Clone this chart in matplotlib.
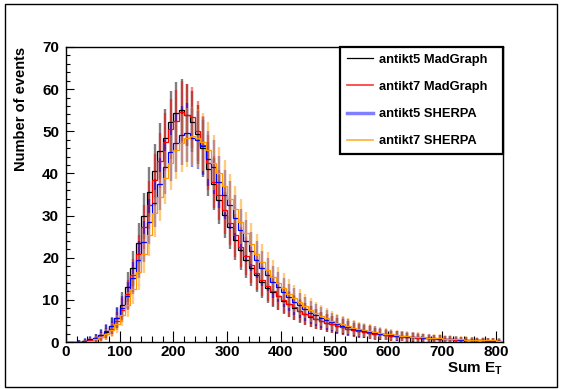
import matplotlib
matplotlib.use("Agg")
import matplotlib.pyplot as plt
import numpy as np
from matplotlib.lines import Line2D
from matplotlib.patches import Rectangle

plt.rcParams['font.family'] = ['Liberation Sans', 'DejaVu Sans']
plt.rcParams['font.weight'] = 'bold'
plt.rcParams['mathtext.fontset'] = 'custom'
plt.rcParams['mathtext.rm'] = 'Liberation Sans:bold'
plt.rcParams['mathtext.it'] = 'Liberation Sans:bold'

# histogram bins: 10 GeV wide from 0 to 810
edges = np.arange(0, 820, 10)

labels = ["antikt5 MadGraph", "antikt7 MadGraph", "antikt5 SHERPA", "antikt7 SHERPA"]
colors = ["black", "#ff0000", "#0000ff", "#ff9900"]

kt5_madgraph = [
    0, 0, 0.1, 0.2, 0.5, 0.9, 1.6, 2.4, 3.8, 5.8,
    8.8, 13.0, 17.5, 23.5, 29.8, 35.6, 40.5, 45.3, 48.3, 52.3,
    54.3, 55.0, 53.8, 52.3, 49.3, 46.0, 41.0, 37.5, 33.8, 30.2,
    27.2, 24.3, 21.8, 19.5, 17.5, 15.8, 14.2, 12.9, 11.8, 10.8,
    9.8, 8.9, 8.0, 7.3, 6.6, 6.0, 5.5, 5.0, 4.6, 4.2,
    3.8, 3.5, 3.2, 2.9, 2.6, 2.4, 2.2, 2.0, 1.8, 1.65,
    1.5, 1.38, 1.27, 1.17, 1.08, 1.0, 0.92, 0.85, 0.78, 0.72,
    0.66, 0.6, 0.55, 0.5, 0.46, 0.42, 0.39, 0.36, 0.33, 0.3,
    0.28,
]
kt7_madgraph = [
    0, 0, 0.05, 0.15, 0.4, 0.7, 1.3, 2.0, 3.2, 5.0,
    7.6, 11.3, 15.8, 20.8, 27.3, 32.5, 38.5, 43.0, 47.5, 50.5,
    52.5, 54.6, 53.8, 53.3, 50.0, 46.8, 42.5, 38.0, 34.8, 31.3,
    28.3, 25.3, 22.6, 20.4, 18.3, 16.4, 14.8, 13.4, 12.1, 11.0,
    10.0, 9.0, 8.2, 7.4, 6.7, 6.1, 5.5, 5.0, 4.6, 4.2,
    3.8, 3.5, 3.2, 2.9, 2.6, 2.4, 2.2, 2.0, 1.8, 1.65,
    1.5, 1.38, 1.27, 1.17, 1.08, 1.0, 0.92, 0.85, 0.78, 0.72,
    0.66, 0.6, 0.55, 0.5, 0.46, 0.42, 0.39, 0.36, 0.33, 0.3,
    0.28,
]
kt5_sherpa = [
    0, 0, 0.1, 0.3, 0.6, 1.0, 1.7, 2.6, 3.9, 5.6,
    8.0, 11.0, 15.2, 19.5, 23.8, 28.5, 33.0, 37.5, 41.5, 45.0,
    47.2, 49.0, 49.7, 48.5, 48.0, 46.5, 43.5, 41.5, 38.0, 35.0,
    32.5, 29.5, 26.5, 24.0, 21.5, 19.5, 17.5, 16.0, 14.3, 13.0,
    11.8, 10.6, 9.6, 8.7, 7.9, 7.0, 6.4, 5.8, 5.2, 4.7,
    4.3, 3.9, 3.5, 3.2, 2.9, 2.6, 2.4, 2.2, 2.0, 1.8,
    1.65, 1.5, 1.4, 1.3, 1.2, 1.1, 1.0, 0.9, 0.85, 0.8,
    0.7, 0.65, 0.6, 0.55, 0.5, 0.45, 0.42, 0.4, 0.35, 0.32,
    0.3,
]
kt7_sherpa = [
    0, 0, 0, 0.1, 0.3, 0.6, 1.1, 1.8, 2.9, 4.3,
    6.3, 8.8, 12.5, 16.5, 21.0, 25.5, 30.5, 34.5, 39.0, 42.5,
    45.5, 47.2, 48.5, 48.8, 48.3, 47.5, 45.5, 42.5, 40.0, 37.0,
    34.0, 31.5, 28.5, 25.8, 23.3, 21.0, 19.0, 17.2, 15.5, 14.0,
    12.7, 11.5, 10.4, 9.4, 8.5, 7.6, 6.9, 6.2, 5.6, 5.1,
    4.6, 4.2, 3.8, 3.4, 3.1, 2.8, 2.6, 2.35, 2.15, 1.95,
    1.8, 1.65, 1.5, 1.4, 1.3, 1.2, 1.1, 1.0, 0.95, 0.88,
    0.8, 0.75, 0.7, 0.62, 0.58, 0.52, 0.48, 0.45, 0.4, 0.37,
    0.33,
]

series = [kt5_madgraph, kt7_madgraph, kt5_sherpa, kt7_sherpa]

fig = plt.figure(figsize=(5.63, 3.89), dpi=100)
ax = fig.add_axes([0.1172, 0.1208, 0.7762, 0.7584])

centers = 0.5 * (edges[:-1] + edges[1:])
for vals, col in zip(series, colors):
    v = np.array(vals)
    ax.stairs(v, edges, color=col, lw=0.9, zorder=3)
    # statistical errors, sqrt(N)
    ax.errorbar(centers, v, yerr=np.sqrt(v), fmt="none", ecolor=col,
                elinewidth=1.7, alpha=0.5, capsize=0, zorder=2)

ax.set_xlim(0, 813)
ax.set_ylim(0, 70)
ax.set_xticks(np.arange(0, 801, 100))
ax.set_xticks(np.arange(0, 813, 20), minor=True)
ax.set_yticks(np.arange(0, 71, 10))
ax.set_yticks(np.arange(0, 71, 2), minor=True)
ax.tick_params(axis="both", which="both", direction="in", top=False, right=False,
               labelsize=11, width=0.8)
ax.tick_params(axis="x", which="major", length=8, pad=2)
ax.tick_params(axis="x", which="minor", length=4)
ax.tick_params(axis="y", which="major", length=6, pad=5)
ax.tick_params(axis="y", which="minor", length=3)
for lab in ax.get_xticklabels() + ax.get_yticklabels():
    lab.set_fontweight("bold")
for sp in ax.spines.values():
    sp.set_linewidth(1.0)

fig.text(21 / 563, 1 - 47 / 389, "Number of events", rotation=90,
         ha="center", va="top", fontsize=10.5, fontweight="bold")
ax.text(1.0, -0.062, r"$\mathrm{Sum\ E_{T}}$", transform=ax.transAxes,
        ha="right", va="top", fontsize=11)

handles = [
    Line2D([], [], color="black", lw=0.9),
    Line2D([], [], color="#ff0000", lw=1.2, alpha=0.8),
    Line2D([], [], color="#0000ff", lw=2.5, alpha=0.5),
    Line2D([], [], color="#ff9900", lw=1.2, alpha=0.8),
]
leg = ax.legend(handles, labels, loc="upper right",
                bbox_to_anchor=(0.627, 0.627, 0.373, 0.373), mode="expand",
                fancybox=False, framealpha=1, edgecolor="black",
                prop={"size": 9.3, "weight": "bold"}, handlelength=2.0,
                labelspacing=1.17, borderaxespad=0, borderpad=0.52,
                handletextpad=0.47)
leg.get_frame().set_linewidth(1.6)

fig.patches.append(Rectangle((0.008, 0.005), 0.982, 0.984, transform=fig.transFigure,
                             fill=False, edgecolor="black", lw=1.0))

fig.savefig("out.png", dpi=100)
